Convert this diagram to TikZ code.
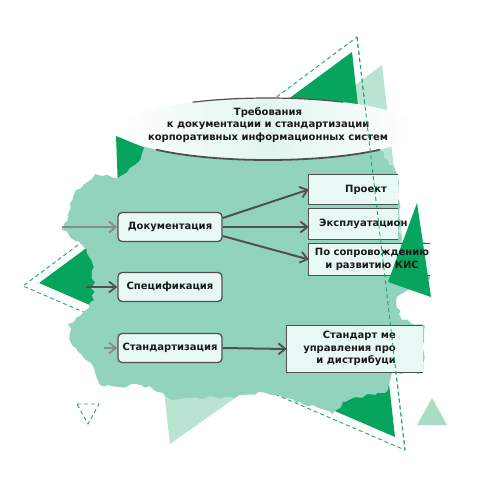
\documentclass[tikz,border=0pt]{standalone}
\usepackage{fontspec}
\setmainfont{DejaVu Sans}
\usetikzlibrary{arrows.meta,decorations.pathmorphing}
\definecolor{mint}{HTML}{92D3BE}
\definecolor{lightmint}{HTML}{B8E4D1}
\definecolor{lightmintb}{HTML}{A9DCC5}
\definecolor{dkgreen}{HTML}{06A45C}
\definecolor{dashgreen}{HTML}{1EA866}
\definecolor{boxfill}{HTML}{E8F8F5}
\definecolor{bannerfill}{HTML}{E2F5EF}
\definecolor{linegray}{HTML}{505050}
\definecolor{fadegray}{HTML}{8A8A8A}
\definecolor{txt}{HTML}{1A1A1A}
\begin{document}
\begin{tikzpicture}[x=1pt,y=-1pt,
 txtfont/.style={font=\fontsize{10pt}{12.3pt}\selectfont\bfseries, text=txt},
 lbox/.style={txtfont, draw=linegray, line width=1.3pt, fill=boxfill, rounded corners=4pt, minimum width=104pt, minimum height=29pt, inner sep=0pt},
 rshape/.style={fill=boxfill, draw=none, inner sep=0pt},
 rside/.style={draw=linegray, line width=1.3pt},
 lbl/.style={txtfont, inner sep=0pt},
 arr/.style={draw=linegray, line width=2pt, -{Straight Barb[length=7pt,width=11pt,line width=1.8pt]}},
 arrfaint/.style={arr, draw=fadegray},
 dashedge/.style={draw=dashgreen, line width=0.9pt, dash pattern=on 4pt off 3pt},
 arcline/.style={draw=linegray, line cap=round},
]
\useasboundingbox (0,0) rectangle (500,500);
\fill[white] (0,0) rectangle (500,500);
% light decorative triangles
\fill[lightmint] (382,65) -- (406,272) -- (215,190) -- cycle;
\fill[lightmint] (170,444) -- (150,270) -- (300,352) -- cycle;
% big dashed triangle
\draw[dashedge] (357,37) -- (405,450) -- (23,286) -- cycle;
% big dark triangle
\fill[dkgreen] (352,52) -- (395,437) -- (39,283) -- cycle;
\fill[dkgreen] (116,136) -- (175,160) -- (118,188) -- cycle;
% brush area
\pgfmathsetseed{7}
\fill[mint, decorate, decoration={random steps, segment length=5pt, amplitude=2pt}]
 (150,140) -- (135,165) -- (118,178) -- (95,174) -- (76,190) -- (68,214) -- (62,230)
 -- (80,242) -- (92,262) -- (94,300) -- (80,316) -- (68,324) -- (72,345) -- (92,364)
 -- (100,385) -- (150,386) -- (168,398) -- (235,398) -- (262,392) -- (300,402)
 -- (332,414) -- (345,402) -- (388,390) -- (392,373) -- (423,372) -- (425,326)
 -- (402,320) -- (396,300) -- (408,290) -- (430,279) -- (429,244) -- (400,242)
 -- (398,175) -- (388,160) -- (380,150) -- (350,140) -- cycle;
% title banner
\shade[left color=white, right color=white, middle color=bannerfill] (268,129) ellipse [x radius=150pt, y radius=31pt];
\draw[arcline, line width=1.2pt] ([shift={(268,129)}]120:150pt and 31pt) arc[start angle=120, end angle=60, x radius=150pt, y radius=31pt];
\draw[arcline, line width=1.8pt] ([shift={(268,129)}]222:150pt and 31pt) arc[start angle=222, end angle=318, x radius=150pt, y radius=31pt];
\node[lbl, align=center] (title) at (268,125) {Требования\\к документации и стандартизации\\корпоративных информационных систем};
% right boxes (open on the right)
\node[rshape, minimum width=89pt, minimum height=29pt] (proj) at (353.5,189.5) {};
\node[rshape, minimum width=89pt, minimum height=30pt] (expl) at (353.5,224) {};
\node[rshape, minimum width=121pt, minimum height=31pt] (sopr) at (369.5,259.5) {};
\node[rshape, minimum width=136pt, minimum height=46pt] (stdm) at (355,349) {};
\draw[rside] (proj.north east) -- (proj.north west) -- (proj.south west) -- (proj.south east);
\draw[rside] (expl.north east) -- (expl.north west) -- (expl.south west) -- (expl.south east);
\draw[rside] (sopr.north east) -- (sopr.north west) -- (sopr.south west) -- (sopr.south east);
\draw[rside] (stdm.north east) -- (stdm.north west) -- (stdm.south west) -- (stdm.south east);
% right green triangle
\fill[dkgreen] (417,203) -- (431,297) -- (388,282) -- cycle;
% texts of right boxes
\node[lbl, anchor=west] (tproj) at (345,190) {Проект};
\node[lbl, anchor=west] (texpl) at (319,224) {Эксплуатацион};
\node[lbl, align=center] (tsopr) at (372,259.5) {По сопровождению\\и развитию КИС};
\node[lbl, align=right, anchor=east] (tstdm) at (396,348.5) {Стандарт ме\\управления про\\и дистрибуци};
% left boxes
\node[lbox] (doc) at (170,227) {Документация};
\node[lbox] (spec) at (170,287) {Спецификация};
\node[lbox] (std) at (170,348) {Стандартизация};
% connectors
\coordinate (in1) at (62,227);
\coordinate (in2) at (86,287);
\coordinate (in3) at (104,348);
\draw[arrfaint] (in1) -- (doc.west);
\draw[arr] (in2) -- (spec.west);
\draw[arrfaint] (in3) -- (std.west);
\draw[arr] ([yshift=9pt]doc.east) -- (proj.west);
\draw[arr] (doc.east) -- (doc.east -| expl.west);
\draw[arr] ([yshift=-9pt]doc.east) -- (sopr.west);
\draw[arr] (std.east) -- (stdm.west);
% dashed right edge on top, small triangles
\draw[dashedge] (357,37) -- (405,450);
\draw[dashedge] (77,404) -- (99,404) -- (88,424) -- cycle;
\fill[lightmintb] (432,398) -- (447,425) -- (417,425) -- cycle;
\end{tikzpicture}
\end{document}
